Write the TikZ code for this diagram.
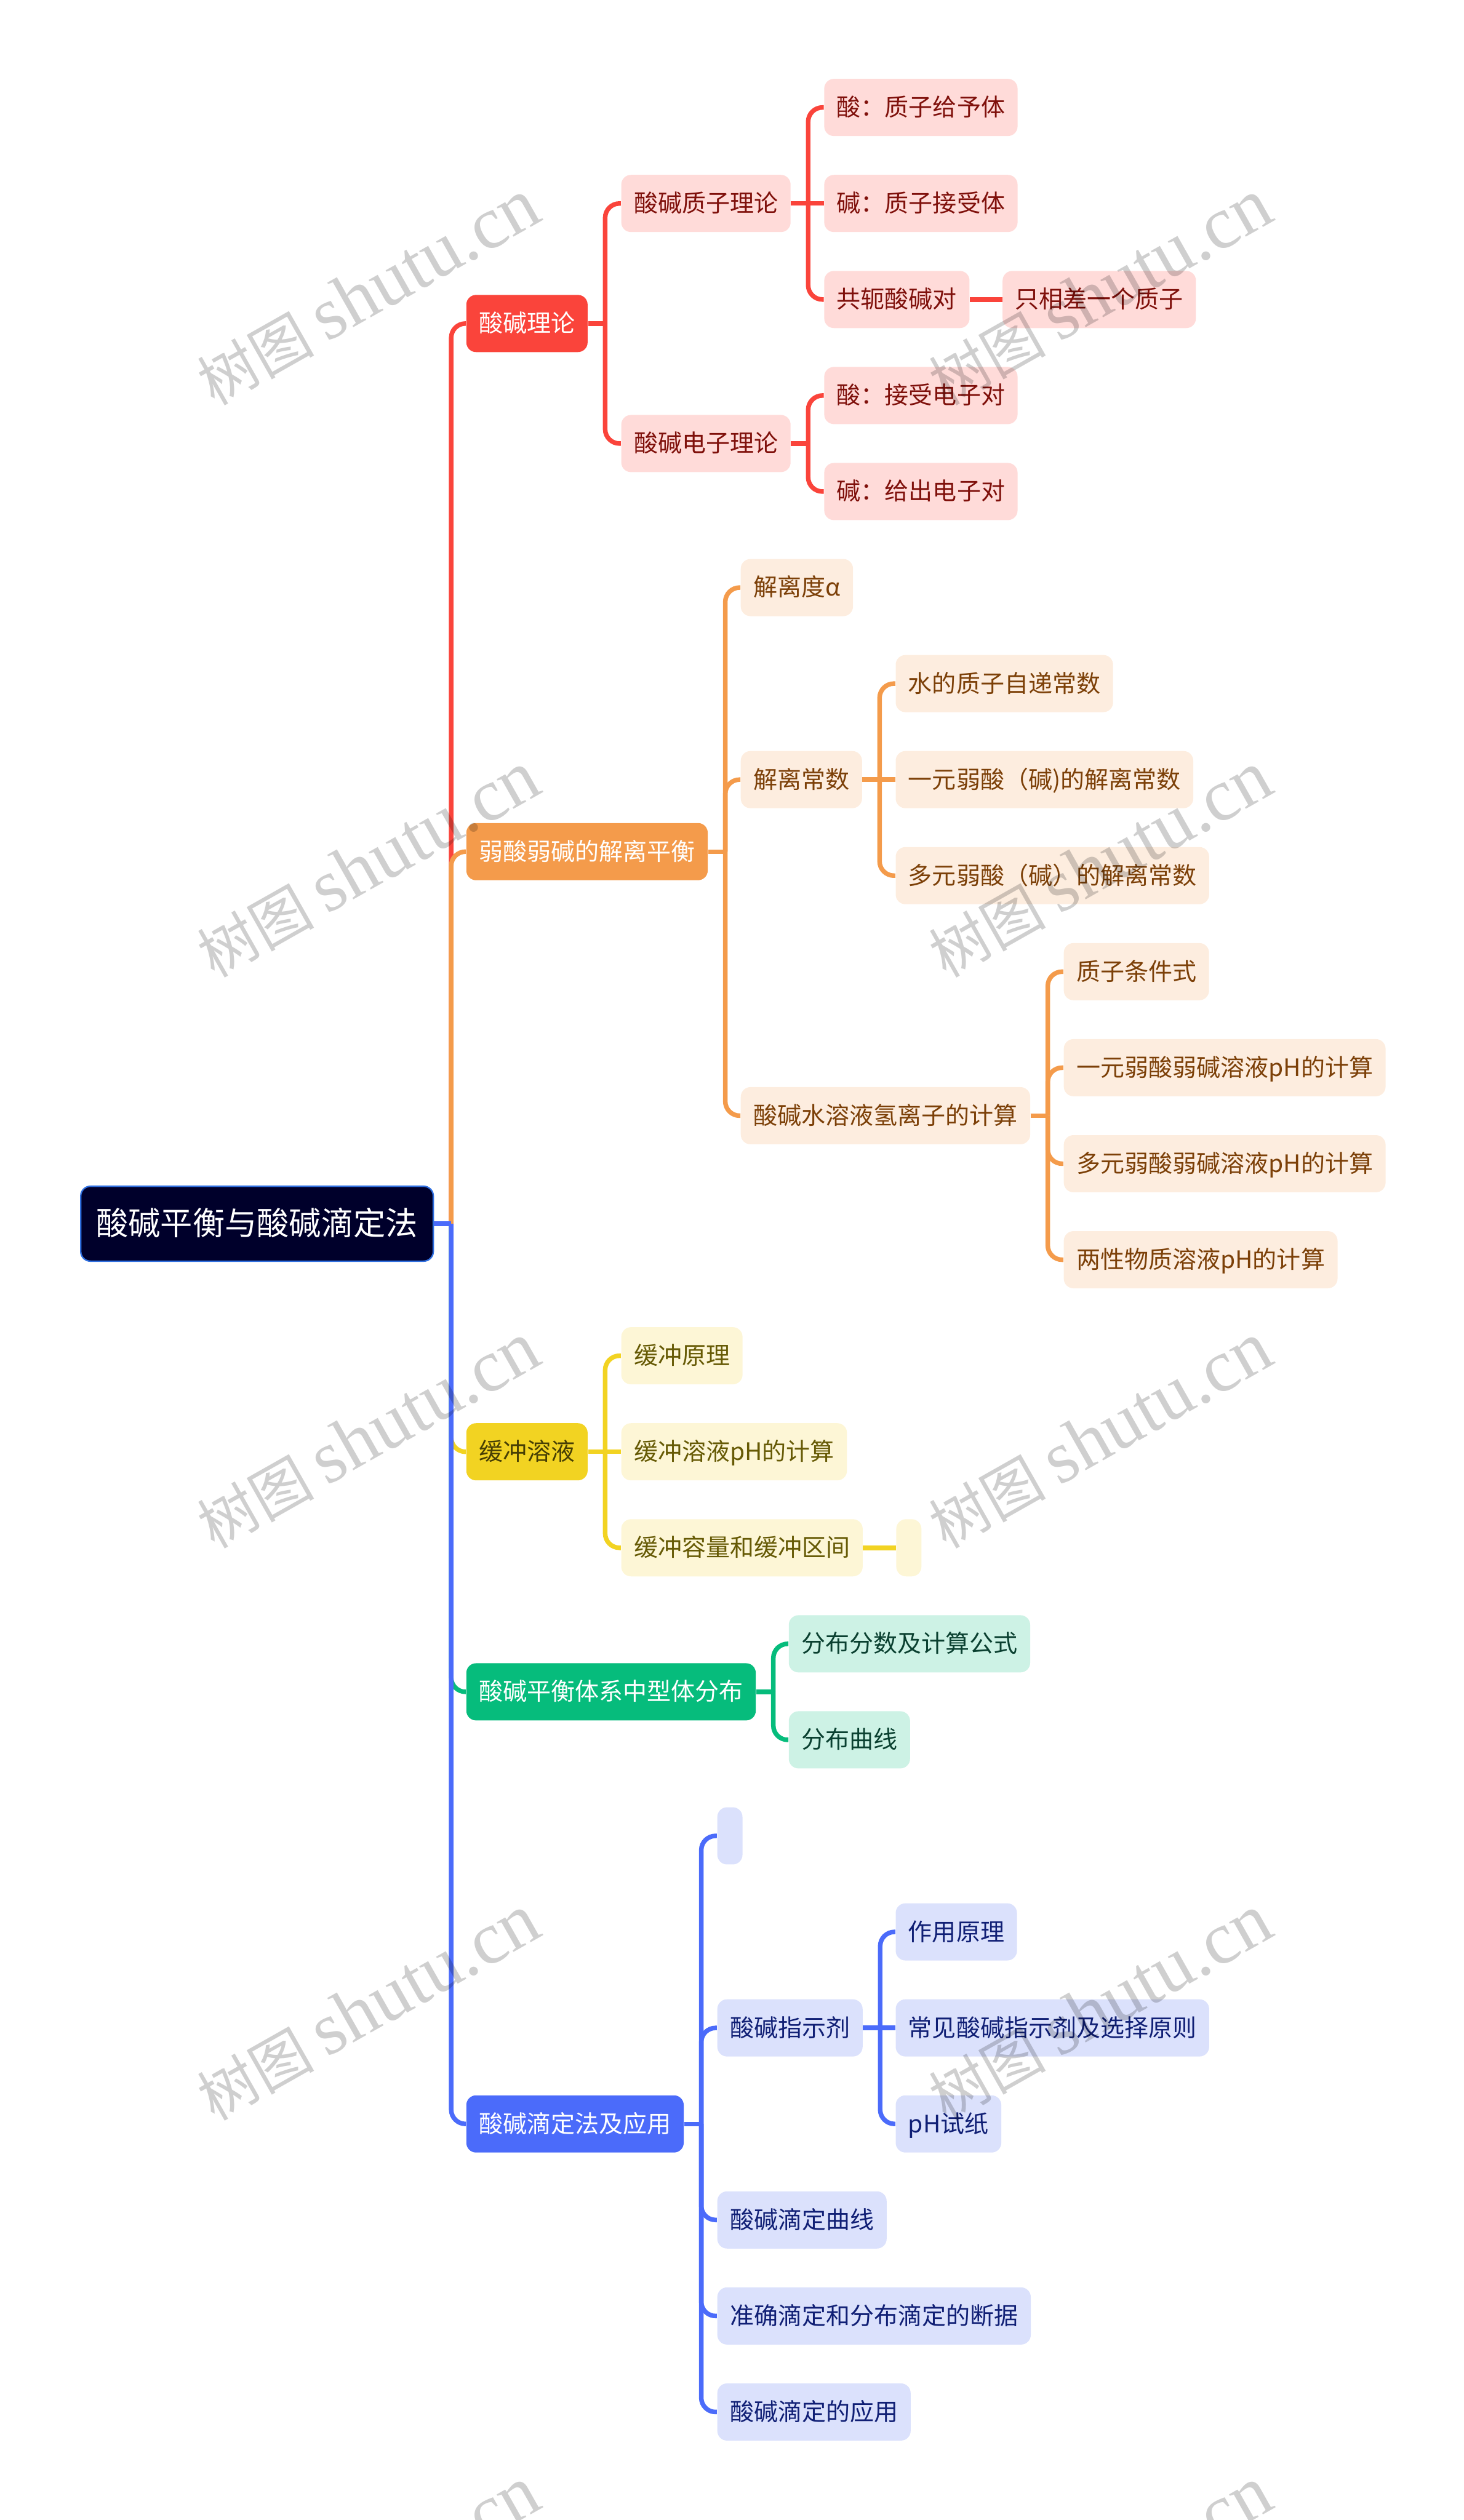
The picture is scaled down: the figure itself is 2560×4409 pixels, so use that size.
\documentclass[tikz,border=0pt]{standalone}
\usepackage{fontspec}
\setmainfont{Noto Sans CJK SC}
\newfontfamily\markfont{Liberation Serif}
\usetikzlibrary{positioning}
\definecolor{myred}{HTML}{FA443B}
\definecolor{myredlight}{HTML}{FFDBD9}
\definecolor{myredtext}{HTML}{7F100B}
\definecolor{myorange}{HTML}{F49B4B}
\definecolor{myorangelight}{HTML}{FDEDDF}
\definecolor{myorangetext}{HTML}{7C4008}
\definecolor{myyellow}{HTML}{F2D322}
\definecolor{myyellowlight}{HTML}{FDF6D6}
\definecolor{myyellowtext}{HTML}{665A05}
\definecolor{mygreen}{HTML}{06BC7C}
\definecolor{mygreenlight}{HTML}{CDF2E5}
\definecolor{mygreentext}{HTML}{0A4030}
\definecolor{myblue}{HTML}{4B6BFA}
\definecolor{mybluelight}{HTML}{DBE1FC}
\definecolor{mybluetext}{HTML}{101F75}
\definecolor{myroot}{HTML}{00002B}
\definecolor{myrootline}{HTML}{2F6FE0}
\tikzset{
  box/.style={anchor=west,rounded corners=.17cm,inner xsep=.22cm,inner ysep=0pt,minimum height=1cm,
    text height=.36cm,text depth=.06cm,font=\fontsize{11.95}{14}\selectfont},
  rootbox/.style={box,fill=myroot,draw=myrootline,line width=.025cm,text=white,inner xsep=.27cm,minimum height=1.31cm,
    text height=.47cm,text depth=.08cm,font=\fontsize{16}{18}\selectfont},
  redtopic/.style={box,fill=myred,text=white},
  redleaf/.style={box,fill=myredlight,text=myredtext},
  orangetopic/.style={box,fill=myorange,text=white},
  orangeleaf/.style={box,fill=myorangelight,text=myorangetext},
  yellowtopic/.style={box,fill=myyellow,text=myyellowtext!70!black},
  yellowleaf/.style={box,fill=myyellowlight,text=myyellowtext},
  greentopic/.style={box,fill=mygreen,text=white},
  greenleaf/.style={box,fill=mygreenlight,text=mygreentext},
  bluetopic/.style={box,fill=myblue,text=white},
  blueleaf/.style={box,fill=mybluelight,text=mybluetext},
  link/.style={line width=.08cm},
  watermark/.style={rotate=29.5,text=black!19,inner sep=0pt,font=\fontsize{29}{36}\selectfont},
}
\newcommand{\forklink}[3]{%
  \draw[link,#1] (#2.east) -- ++(30,0) coordinate (fork);
  \draw[link,#1,rounded corners=.25cm] (fork) |- (#3.west);
}
\begin{document}
\begin{tikzpicture}[x=0.01cm,y=-0.01cm]
\useasboundingbox (0,0) rectangle (2560,4409);

\node[rootbox] (root) at (140,2141) {酸碱平衡与酸碱滴定法};

\node[redtopic] (theory) at (815,566) {酸碱理论};
\node[redleaf] (proton) at (1086,356) {酸碱质子理论};
\node[redleaf] (electron) at (1086,776) {酸碱电子理论};
\node[redleaf] (pacid) at (1441,188) {酸^^^^ff1a质子给予体};
\node[redleaf] (pbase) at (1441,356) {碱^^^^ff1a质子接受体};
\node[redleaf] (pair) at (1441,524) {共轭酸碱对};
\node[redleaf] (onep) at (1753,524) {只相差一个质子};
\node[redleaf] (eacid) at (1441,692) {酸^^^^ff1a接受电子对};
\node[redleaf] (ebase) at (1441,860) {碱^^^^ff1a给出电子对};

\node[orangetopic] (weak) at (815,1490) {弱酸弱碱的解离平衡};
\node[orangeleaf] (degree) at (1295,1028) {解离度α};
\node[orangeleaf] (constant) at (1295,1364) {解离常数};
\node[orangeleaf] (hydrogen) at (1295,1952) {酸碱水溶液氢离子的计算};
\node[orangeleaf] (water) at (1566,1196) {水的质子自递常数};
\node[orangeleaf] (mono) at (1566,1364) {一元弱酸^^^^ff08碱)的解离常数};
\node[orangeleaf] (poly) at (1566,1532) {多元弱酸^^^^ff08碱^^^^ff09的解离常数};
\node[orangeleaf] (condition) at (1860,1700) {质子条件式};
\node[orangeleaf] (monoph) at (1860,1868) {一元弱酸弱碱溶液pH的计算};
\node[orangeleaf] (polyph) at (1860,2036) {多元弱酸弱碱溶液pH的计算};
\node[orangeleaf] (amphi) at (1860,2204) {两性物质溶液pH的计算};

\node[yellowtopic] (buffer) at (815,2540) {缓冲溶液};
\node[yellowleaf] (bprinciple) at (1086,2372) {缓冲原理};
\node[yellowleaf] (bph) at (1086,2540) {缓冲溶液pH的计算};
\node[yellowleaf] (bcapacity) at (1086,2708) {缓冲容量和缓冲区间};
\node[yellowleaf] (bempty) at (1567,2708) {};

\node[greentopic] (species) at (815,2960) {酸碱平衡体系中型体分布};
\node[greenleaf] (fraction) at (1379,2876) {分布分数及计算公式};
\node[greenleaf] (curve) at (1379,3044) {分布曲线};

\node[bluetopic] (titration) at (815,3716) {酸碱滴定法及应用};
\node[blueleaf] (tempty) at (1254,3212) {};
\node[blueleaf] (indicator) at (1254,3548) {酸碱指示剂};
\node[blueleaf] (tcurve) at (1254,3884) {酸碱滴定曲线};
\node[blueleaf] (criterion) at (1254,4052) {准确滴定和分布滴定的断据};
\node[blueleaf] (usage) at (1254,4220) {酸碱滴定的应用};
\node[blueleaf] (action) at (1566,3380) {作用原理};
\node[blueleaf] (common) at (1566,3548) {常见酸碱指示剂及选择原则};
\node[blueleaf] (paper) at (1566,3716) {pH试纸};

\forklink{myred}{theory}{proton}
\forklink{myred}{theory}{electron}
\forklink{myred}{proton}{pacid}
\forklink{myred}{proton}{pair}
\draw[link,myred] (proton.east) -- (pbase.west);
\draw[link,myred] (pair.east) -- (onep.west);
\forklink{myred}{electron}{eacid}
\forklink{myred}{electron}{ebase}

\forklink{myorange}{weak}{degree}
\forklink{myorange}{weak}{constant}
\forklink{myorange}{weak}{hydrogen}
\forklink{myorange}{constant}{water}
\forklink{myorange}{constant}{poly}
\draw[link,myorange] (constant.east) -- (mono.west);
\forklink{myorange}{hydrogen}{condition}
\forklink{myorange}{hydrogen}{monoph}
\forklink{myorange}{hydrogen}{polyph}
\forklink{myorange}{hydrogen}{amphi}

\forklink{myyellow}{buffer}{bprinciple}
\forklink{myyellow}{buffer}{bcapacity}
\draw[link,myyellow] (buffer.east) -- (bph.west);
\draw[link,myyellow] (bcapacity.east) -- (bempty.west);

\forklink{mygreen}{species}{fraction}
\forklink{mygreen}{species}{curve}

\forklink{myblue}{titration}{tempty}
\forklink{myblue}{titration}{indicator}
\forklink{myblue}{titration}{tcurve}
\forklink{myblue}{titration}{criterion}
\forklink{myblue}{titration}{usage}
\forklink{myblue}{indicator}{action}
\forklink{myblue}{indicator}{paper}
\draw[link,myblue] (indicator.east) -- (common.west);

% main trunk, later colours lie over earlier ones
\forklink{myred}{root}{theory}
\forklink{myorange}{root}{weak}
\forklink{myyellow}{root}{buffer}
\forklink{mygreen}{root}{species}
\forklink{myblue}{root}{titration}

\begin{scope}[blend mode=multiply]
\foreach \y/\n in {512/1,1513/2,2512/3,3513/4,4514/5} {
  \node[watermark] (markl\n) at (644,\y) {树图 {\markfont\fontsize{37}{36}\selectfont shutu.cn}};
  \node[watermark] (markr\n) at (1924,\y) {树图 {\markfont\fontsize{37}{36}\selectfont shutu.cn}};
}
\end{scope}
\end{tikzpicture}
\end{document}
